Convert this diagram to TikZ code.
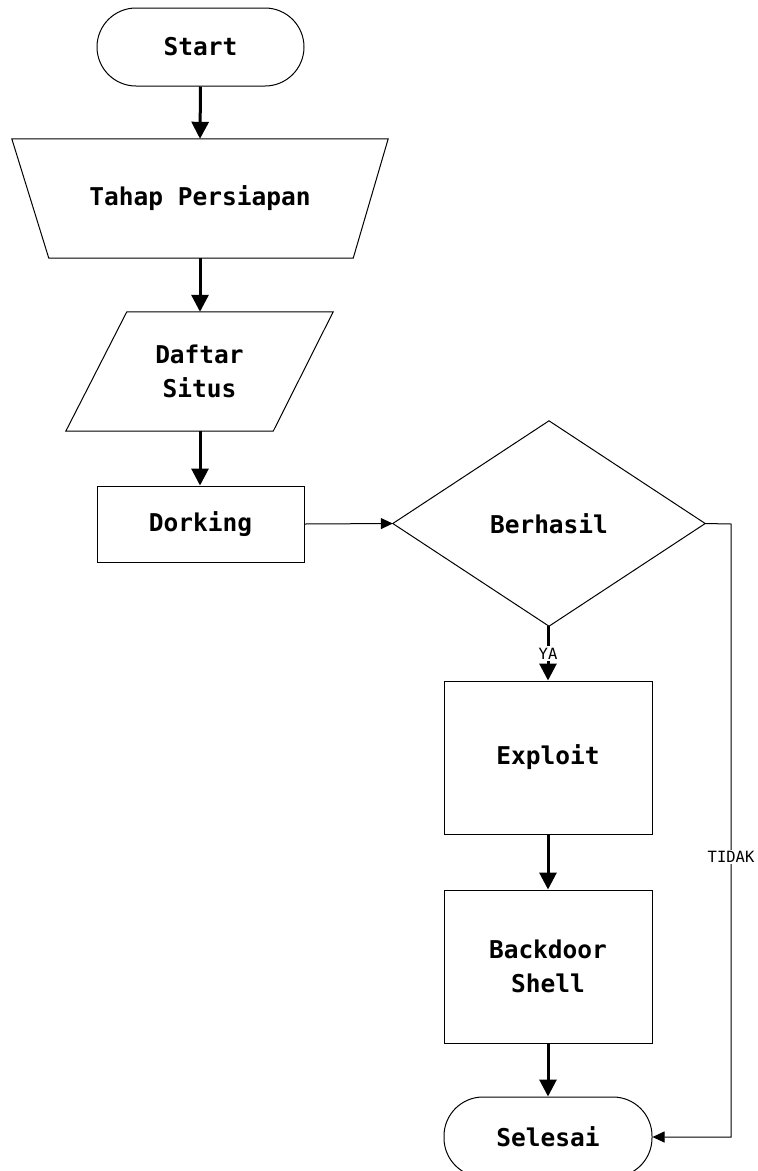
\documentclass[tikz,border=0pt]{standalone}
\usepackage{fontspec}
\setmonofont{DejaVu Sans Mono}
\usetikzlibrary{arrows.meta}
\tikzset{
  txt/.style={font=\ttfamily\bfseries\fontsize{24.5pt}{34pt}\selectfont, align=center, inner sep=0pt},
  box/.style={txt, draw, line width=1pt},
  term/.style={box, rounded corners=39pt},
  shapeline/.style={line width=1pt, line join=miter},
  thickarrow/.style={line width=3pt, -{Triangle[width=17pt,length=17pt]}},
  thinarrow/.style={line width=1pt, -{Triangle[width=11pt,length=12pt]}},
  lbl/.style={font=\ttfamily\fontsize{15.5pt}{18pt}\selectfont, fill=white, inner sep=1.5pt}
}
\begin{document}
\begin{tikzpicture}[x=1pt,y=-1pt]
\useasboundingbox (0,0) rectangle (758,1171);
% nodes
\node[term, minimum width=207pt, minimum height=78pt] (start) at (200.5,47) {Start};
\node[txt, minimum width=376pt, minimum height=119pt] (tahap) at (200,198.5) {Tahap Persiapan};
\draw[shapeline] (tahap.north west) -- (tahap.north east) -- ([xshift=-35pt]tahap.south east) -- ([xshift=37pt]tahap.south west) -- cycle;
\node[txt, minimum width=267pt, minimum height=119pt] (daftar) at (199.5,371.5) {Daftar\\Situs};
\draw[shapeline] ([xshift=61pt]daftar.north west) -- (daftar.north east) -- ([xshift=-60pt]daftar.south east) -- (daftar.south west) -- cycle;
\node[box, minimum width=207pt, minimum height=76pt] (dork) at (200.5,524) {Dorking};
\node[txt, minimum width=312pt, minimum height=205pt] (dec) at (549,523.5) {Berhasil};
\draw[shapeline] (dec.west) -- (dec.north) -- (dec.east) -- (dec.south) -- cycle;
\node[box, minimum width=208pt, minimum height=153pt] (expl) at (548,757.5) {Exploit};
\node[box, minimum width=208pt, minimum height=153pt] (shell) at (548,966.5) {Backdoor\\Shell};
\node[term, minimum width=208pt, minimum height=80pt] (sel) at (548,1137) {Selesai};
\coordinate (tr) at (731,524);
% connectors
\draw[thickarrow] (start.south) -- (tahap.north);
\draw[thickarrow] (tahap.south) -- (daftar.north -| tahap.south);
\draw[thickarrow] (daftar.south -| tahap.south) -- (dork.north -| tahap.south);
\draw[thinarrow] (dork.east) -- (dec.west);
\draw[thickarrow] (dec.south -| expl.north) -- node[lbl, pos=0.5] {YA} (expl.north);
\draw[thickarrow] (expl.south) -- (shell.north);
\draw[thickarrow] (shell.south) -- (sel.north);
\draw[thinarrow] (dec.east) -- (tr) -- node[lbl, pos=0.543] {TIDAK} (tr |- sel.east) -- (sel.east);
\end{tikzpicture}
\end{document}
